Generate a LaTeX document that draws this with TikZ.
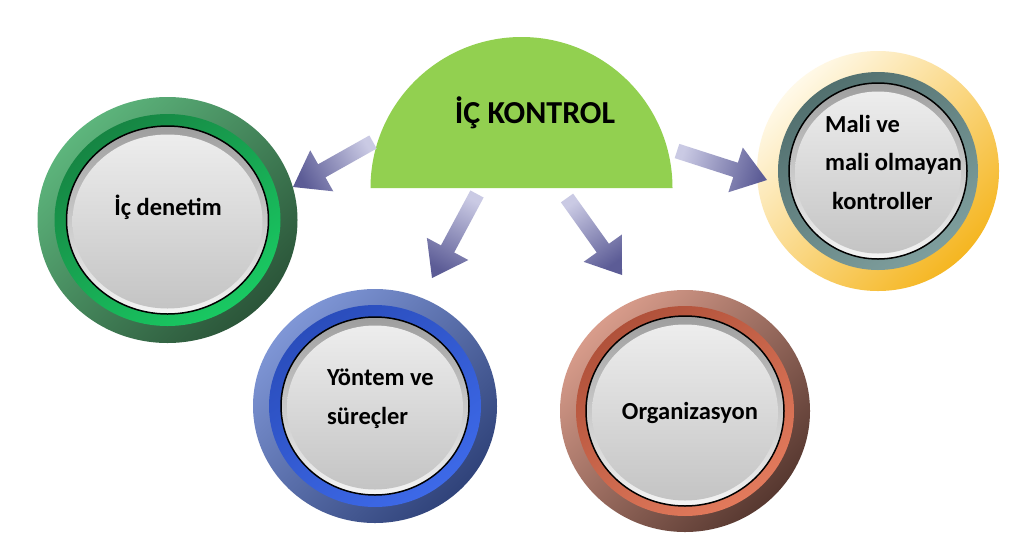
\documentclass[tikz,border=0pt]{standalone}
\usepackage{fontspec}
\setmainfont{Carlito}
\usetikzlibrary{calc}
\definecolor{kontrolgreen}{HTML}{92D050}
\definecolor{arrowlight}{HTML}{CACAE4}
\definecolor{arrowdark}{HTML}{5C5C96}
\definecolor{greenlight}{HTML}{5DB57C}
\definecolor{greendark}{HTML}{2B5539}
\definecolor{greenband}{HTML}{168543}
\definecolor{greenbright}{HTML}{19C962}
\definecolor{bluelight}{HTML}{7F96D6}
\definecolor{bluedark}{HTML}{30437A}
\definecolor{blueband}{HTML}{2A4DBC}
\definecolor{bluebright}{HTML}{3D69E8}
\definecolor{brownlight}{HTML}{D89C8B}
\definecolor{browndark}{HTML}{573830}
\definecolor{brownband}{HTML}{B0513A}
\definecolor{brownbright}{HTML}{E27A5C}
\definecolor{goldlight}{HTML}{FFF9E8}
\definecolor{golddark}{HTML}{F5B621}
\definecolor{tealband}{HTML}{52706F}
\definecolor{tealbright}{HTML}{7E9E9D}
\definecolor{diskrim}{HTML}{9E9E9E}
\definecolor{diskshine}{HTML}{F4F4F4}
\definecolor{facetop}{HTML}{EDEDED}
\definecolor{facebottom}{HTML}{C4C4C4}
\tikzset{kontrolhalf/.style={fill=kontrolgreen}}
\tikzset{titletext/.style={font=\bfseries\fontsize{32}{36}\selectfont, inner sep=0pt}}
\tikzset{btntext/.style={font=\bfseries\fontsize{24.5}{38.5}\selectfont, inner sep=0pt, align=left}}
\tikzset{blockarrow/.style={left color=arrowlight, right color=arrowdark}}
\tikzset{
  pics/button/.style n args={8}{code={
    \shade[top color=#5, bottom color=#6, shading angle=45]
      (0,0) ellipse [x radius=#1pt, y radius=#2pt];
    \shade[top color=#7, bottom color=#8, shading angle=35]
      (0,0) ellipse [x radius=#1pt-#3pt, y radius=#2pt-#3pt];
    \shade[top color=diskrim, bottom color=diskshine, draw=black, line width=1.5pt]
      (0,0) ellipse [x radius=#1pt-#4pt, y radius=#2pt-#4pt];
    \shade[top color=facetop, bottom color=facebottom]
      (0,1.5) ellipse [x radius=#1pt-#4pt-6pt, y radius=#2pt-#4pt-7pt];
  }}
}
\newcommand{\flowarrow}[2]{%
  \coordinate (#1-base) at ($(#1-tip)!33pt!(#1-tail)$);
  \shade[blockarrow, shading angle=#2]
    ($(#1-tail)!7.5pt!90:(#1-tip)$) -- ($(#1-base)!7.5pt!90:(#1-tip)$)
    -- ($(#1-base)!23.5pt!90:(#1-tip)$) -- (#1-tip)
    -- ($(#1-base)!23.5pt!-90:(#1-tip)$) -- ($(#1-base)!7.5pt!-90:(#1-tip)$)
    -- ($(#1-tail)!7.5pt!-90:(#1-tip)$) -- cycle;}

\begin{document}
\begin{tikzpicture}[x=1pt, y=-1pt]
  \useasboundingbox[fill=white] (0,0) rectangle (1009,547);
  % the half disc on top
  \fill[kontrolhalf] (370.5,188) arc[start angle=180, end angle=0, radius=151pt] -- cycle;
  \node[titletext, anchor=base] (kontrol) at (535,123) {İÇ KONTROL};
  % the four buttons
  \pic (denetimbtn) at (167.5,220) {button={130}{123}{17}{29}{greenlight}{greendark}{greenband}{greenbright}};
  \pic (yontembtn) at (375,406) {button={122}{117}{16}{28}{bluelight}{bluedark}{blueband}{bluebright}};
  \pic (orgbtn) at (685,411) {button={125}{121}{16}{26}{brownlight}{browndark}{brownband}{brownbright}};
  \pic (malibtn) at (878,171) {button={121}{120}{21}{32}{goldlight}{golddark}{tealband}{tealbright}};
  \node[btntext, anchor=base] (denetim) at (168,215) {İç denetim};
  \node[btntext, anchor=base west] (yontem) at (327,424) {Yöntem ve\\süreçler};
  \node[btntext, anchor=base] (org) at (690,419) {Organizasyon};
  \node[btntext, anchor=base west] (mali) at (825,209) {Mali ve\\mali olmayan\\\hspace{7pt}kontroller};
  % the arrows
  \coordinate (a1-tail) at (373,142); \coordinate (a1-tip) at (293,187);
  \coordinate (a2-tail) at (477,194); \coordinate (a2-tip) at (432,278);
  \coordinate (a3-tail) at (567,198); \coordinate (a3-tip) at (622,275);
  \coordinate (a4-tail) at (677,151); \coordinate (a4-tip) at (767,180);
  \flowarrow{a1}{299.4}
  \flowarrow{a2}{331.8}
  \flowarrow{a3}{35.5}
  \flowarrow{a4}{72.1}
\end{tikzpicture}
\end{document}
